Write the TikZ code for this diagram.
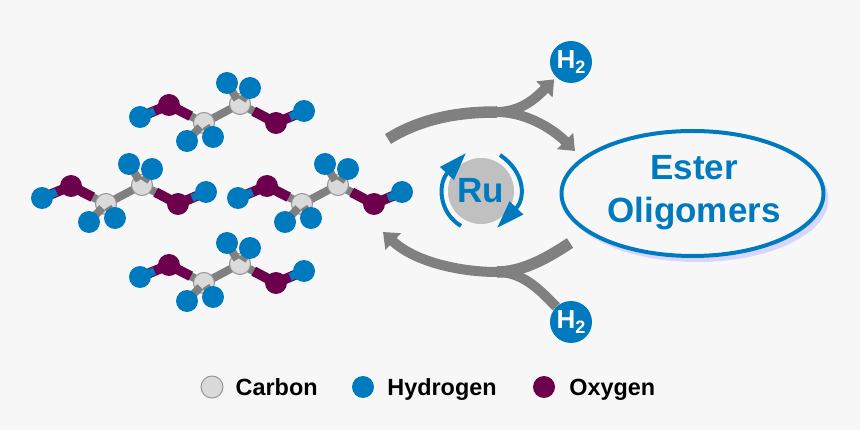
\documentclass[tikz,border=0pt]{standalone}
\usepackage{fontspec}
\setmainfont{Liberation Sans}
\usetikzlibrary{positioning, calc, shapes.geometric, arrows.meta, backgrounds}
\definecolor{pagegray}{RGB}{247,247,248}
\definecolor{atomblue}{RGB}{0,122,190}
\definecolor{atompurple}{RGB}{108,0,76}
\definecolor{atomgray}{RGB}{218,218,218}
\definecolor{rimgray}{RGB}{150,150,150}
\definecolor{bondgray}{RGB}{128,128,128}
\definecolor{rugray}{RGB}{192,192,192}
\definecolor{shadowblue}{RGB}{214,214,255}
\pgfdeclarelayer{atoms}
\pgfsetlayers{background,main,atoms}
\begin{document}
\begin{tikzpicture}[
        x=1pt, y=-1pt,
        hatom/.style={circle, fill=atomblue, inner sep=0pt, minimum size=22pt},
        oatom/.style={circle, fill=atompurple, inner sep=0pt, minimum size=22pt},
        catom/.style={circle, fill=atomgray, draw=rimgray, line width=1pt, inner sep=0pt, minimum size=21pt},
        bond/.style={draw=bondgray, line width=8pt},
        obond/.style={draw=atompurple, line width=10pt},
        hbond/.style={draw=atomblue, line width=8pt},
        flow/.style={draw=bondgray, line width=11.5pt},
        branch/.style={draw=bondgray, line width=10pt, -{Triangle[length=14pt,width=22pt]}},
        cycle/.style={draw=atomblue, line width=4pt, -{Triangle[length=28pt,width=18pt]}},
        gas/.style={circle, fill=atomblue, text=white, inner sep=0pt, minimum size=42pt, font=\bfseries\fontsize{26}{26}\selectfont},
        legend/.style={font=\bfseries\fontsize{23.4}{24}\selectfont, inner sep=0pt, text height=17pt, text depth=0pt},
        molecule/.pic={
            \begin{pgfonlayer}{atoms}
                \node[hatom] (hl) at (0,0) {};
                \node[oatom] (ol) at (29,-12) {};
                \node[oatom] (or) at (136,6) {};
                \node[hatom] (hr) at (164,-6) {};
                \node[hatom] (ha) at (47,24) {};
                \node[hatom] (hb) at (73,20) {};
                \node[hatom] (hc) at (87,-34) {};
                \node[hatom] (hd) at (110,-29) {};
            \end{pgfonlayer}
            \node[catom] (cl) at (64,6) {};
            \node[catom] (cr) at (100,-13) {};
            \begin{pgfonlayer}{background}
                \draw[bond] (cl.center) -- (cr.center);
                \draw[bond] (ol.center) -- (cl.center);
                \draw[obond] (ol.center) -- ($(ol.center)!.62!(cl.center)$);
                \draw[bond] (or.center) -- (cr.center);
                \draw[obond] (or.center) -- ($(or.center)!.62!(cr.center)$);
                \draw[obond] (ol.center) -- (hl.center);
                \draw[hbond] ($(ol.center)!.5!(hl.center)$) -- (hl.center);
                \draw[obond] (or.center) -- (hr.center);
                \draw[hbond] ($(or.center)!.5!(hr.center)$) -- (hr.center);
            \end{pgfonlayer}
            \draw[bond] ($(cl.center)!.22!(ha.center)$) -- (ha.center);
            \draw[bond] ($(cl.center)!.22!(hb.center)$) -- (hb.center);
            \draw[bond] ($(cr.center)!.22!(hc.center)$) -- (hc.center);
            \draw[bond] ($(cr.center)!.22!(hd.center)$) -- (hd.center);
        },
    ]
    \begin{pgfonlayer}{background}
        \fill[pagegray] (0,0) rectangle (860,430);
    \end{pgfonlayer}

    \pic (top) at (140,117) {molecule};
    \pic (left) at (42,198) {molecule};
    \pic (mid) at (238,198) {molecule};
    \pic (low) at (140,277) {molecule};

    \node[ellipse, fill=shadowblue, inner sep=0pt, minimum width=263pt, minimum height=126pt] (estershadow) at (697,199) {};
    \node[ellipse, draw=atomblue, fill=pagegray, line width=4pt, inner sep=0pt, minimum width=262pt, minimum height=125pt] (ester) at (692.5,193.5) {};
    \node[text=atomblue, align=center, font=\bfseries\fontsize{35}{43}\selectfont, inner sep=0pt] (esterlabel) at (694,193) {Ester\\Oligomers};

    \node[gas] (gastop) at (571,62) {H\raisebox{-5pt}{\fontsize{18}{18}\selectfont 2}};
    \node[gas] (gaslow) at (571,322) {H\raisebox{-5pt}{\fontsize{18}{18}\selectfont 2}};

    \node[circle, fill=rugray, text=atomblue, inner sep=0pt, minimum size=66pt, font=\bfseries\fontsize{35}{35}\selectfont] (ru) at (481,191) {Ru};

    \coordinate (uptail) at (388,139);
    \coordinate (upfork) at (497,112);
    \coordinate (downtail) at (570,243);
    \coordinate (downfork) at (497,272);
    \coordinate (downtip) at (383,232);
    \coordinate (uptip) at (575,151);

    \draw[flow] (uptail) .. controls (425,116) and (465,112) .. (upfork);
    \draw[branch, shorten >=3pt] (upfork) .. controls (520,112) and (535,99) .. (gastop);
    \draw[branch] (upfork) .. controls (525,112) and (552,128) .. (uptip);

    \draw[flow] (downtail) .. controls (543,261) and (520,272) .. (downfork);
    \draw[branch] (downfork) .. controls (460,272) and (415,262) .. (downtip);
    \draw[draw=bondgray, line width=10pt] (gaslow) .. controls (538,288) and (522,272) .. (downfork);

    \coordinate (leftstart) at (461,226);
    \coordinate (lefttip) at (466,153);
    \coordinate (rightstart) at (500,155);
    \coordinate (righttip) at (497,228);
    \draw[cycle] (leftstart) .. controls (438,212) and (438,183) .. (lefttip);
    \draw[cycle] (rightstart) .. controls (525,172) and (526,198) .. (righttip);

    \node[catom, minimum size=22pt] (keycarbon) at (212,387) {};
    \node[legend, right=12pt of keycarbon] (carbonlabel) {Carbon};
    \node[hatom, minimum size=22pt] (keyhydrogen) at (363,387) {};
    \node[legend, right=13pt of keyhydrogen] (hydrogenlabel) {Hydrogen};
    \node[oatom, minimum size=22pt] (keyoxygen) at (544,387) {};
    \node[legend, right=14pt of keyoxygen] (oxygenlabel) {Oxygen};
\end{tikzpicture}
\end{document}
